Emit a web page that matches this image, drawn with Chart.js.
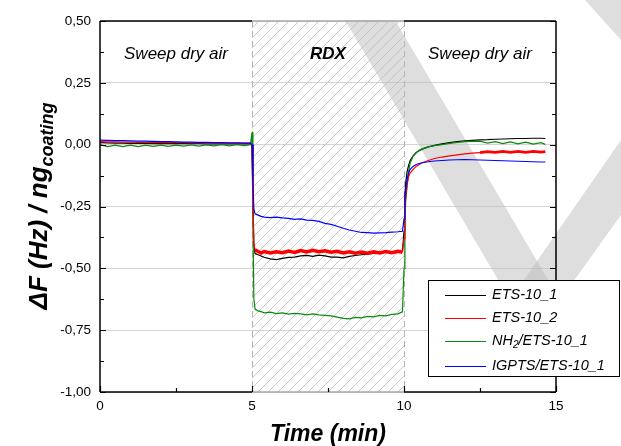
<!DOCTYPE html>
<html>
<head>
<meta charset="utf-8">
<script src="https://cdn.jsdelivr.net/npm/chart.js@4.4.0/dist/chart.umd.min.js"></script>
<style>
  html, body { margin: 0; padding: 0; background: #fff; }
  #wrap { width: 621px; height: 446px; }
</style>
</head>
<body>
<div id="wrap"><canvas id="chart" width="621" height="446"></canvas></div>
<script>
// time axis (min), shared by all four series
const time = [0, 0.25, 0.5, 0.75, 1, 1.25, 1.5, 1.75, 2, 2.25, 2.5, 2.75, 3, 3.25, 3.5, 3.75, 4, 4.25, 4.5, 4.75, 4.95,
  5.0, 5.03, 5.06, 5.1, 5.2, 5.3, 5.4, 5.6, 5.8, 6.0, 6.2, 6.4, 6.6, 6.8, 7.0, 7.2, 7.4, 7.6, 7.8, 8.0, 8.2, 8.4, 8.6, 8.8, 9.0, 9.2, 9.4, 9.6, 9.8, 9.95,
  10.0, 10.03, 10.06, 10.1, 10.15, 10.2, 10.3, 10.4, 10.5, 10.6, 10.8, 11.0, 11.25, 11.5, 11.75, 12, 12.25, 12.5, 12.75, 13, 13.25, 13.5, 13.75, 14, 14.25, 14.5, 14.65];

const ets1 = [0.008, 0.007, 0.006, 0.006, 0.005, 0.005, 0.005, 0.004, 0.004, 0.004, 0.004, 0.004, 0.004, 0.004, 0.003, 0.003, 0.003, 0.003, 0.003, 0.003, 0.003,
  0.0, -0.2, -0.40, -0.44, -0.445, -0.45, -0.455, -0.462, -0.465, -0.46, -0.456, -0.455, -0.45, -0.448, -0.452, -0.447, -0.45, -0.455, -0.455, -0.458, -0.452, -0.448, -0.445, -0.443, -0.44, -0.438, -0.435, -0.436, -0.432, -0.43,
  -0.35, -0.2, -0.15, -0.11, -0.085, -0.065, -0.045, -0.032, -0.025, -0.018, -0.009, -0.003, 0.003, 0.008, 0.012, 0.015, 0.017, 0.019, 0.02, 0.022, 0.023, 0.024, 0.025, 0.025, 0.026, 0.026, 0.025];

const ets2 = [0.012, 0.011, 0.011, 0.01, 0.01, 0.009, 0.009, 0.009, 0.008, 0.008, 0.008, 0.008, 0.007, 0.007, 0.007, 0.007, 0.006, 0.006, 0.006, 0.006, 0.006,
  0.0, -0.25, -0.40, -0.425, -0.432, -0.438, -0.432, -0.438, -0.433, -0.437, -0.43, -0.436, -0.428, -0.434, -0.427, -0.433, -0.429, -0.435, -0.431, -0.438, -0.433, -0.439, -0.434, -0.439, -0.433, -0.438, -0.432, -0.437, -0.431, -0.435,
  -0.38, -0.25, -0.21, -0.16, -0.13, -0.115, -0.1, -0.088, -0.08, -0.073, -0.064, -0.056, -0.05, -0.045, -0.041, -0.037, -0.034, -0.032, -0.028, -0.031, -0.027, -0.031, -0.027, -0.031, -0.027, -0.03, -0.028];

const nh2 = [0.0, -0.008, -0.002, -0.008, -0.002, -0.008, -0.002, -0.007, -0.002, -0.007, -0.002, -0.006, -0.001, -0.006, -0.001, -0.005, 0.0, -0.005, 0.0, -0.004, 0.0,
  0.05, -0.3, -0.62, -0.665, -0.672, -0.675, -0.68, -0.677, -0.683, -0.68, -0.685, -0.682, -0.684, -0.688, -0.684, -0.688, -0.69, -0.692, -0.697, -0.702, -0.704, -0.698, -0.7, -0.694, -0.696, -0.69, -0.692, -0.686, -0.684, -0.676,
  -0.5, -0.3, -0.22, -0.17, -0.11, -0.075, -0.047, -0.033, -0.023, -0.017, -0.009, -0.004, 0.0, 0.005, 0.009, 0.012, 0.013, 0.014, 0.006, 0.012, 0.004, 0.011, 0.003, 0.01, 0.002, 0.008, 0.001];

const igpts = [0.018, 0.017, 0.016, 0.016, 0.015, 0.014, 0.014, 0.013, 0.012, 0.012, 0.011, 0.01, 0.01, 0.009, 0.009, 0.008, 0.008, 0.007, 0.007, 0.006, 0.006,
  0.0, -0.15, -0.26, -0.28, -0.285, -0.29, -0.293, -0.295, -0.293, -0.296, -0.298, -0.302, -0.3, -0.305, -0.306, -0.31, -0.318, -0.322, -0.33, -0.338, -0.345, -0.35, -0.355, -0.356, -0.358, -0.357, -0.356, -0.354, -0.352, -0.35,
  -0.3, -0.22, -0.18, -0.14, -0.115, -0.1, -0.088, -0.08, -0.076, -0.073, -0.069, -0.066, -0.064, -0.062, -0.061, -0.06, -0.061, -0.062, -0.063, -0.064, -0.065, -0.066, -0.067, -0.068, -0.069, -0.07, -0.07];

const seriesLabels = ['ETS-10_1', 'ETS-10_2', 'NH2/ETS-10_1', 'IGPTS/ETS-10_1'];
const seriesColors = ['#000000', '#ff0000', '#0a8a0a', '#0000ff'];
const seriesValues = [ets1, ets2, nh2, igpts];

const xTickValues = [0, 5, 10, 15];
const yMin = -1, yMax = 0.5, yStep = 0.25;
const rdxStart = 5, rdxEnd = 10;
const phaseLabels = [
  { text: 'Sweep dry air', at: 2.5, bold: false },
  { text: 'RDX', at: 7.5, bold: true },
  { text: 'Sweep dry air', at: 12.5, bold: false }
];
const phaseLabelY = 0.367;

const FONT = '"Liberation Sans", Arial, sans-serif';

function toPoints(vals) {
  return vals.map((v, i) => ({ x: time[i], y: v }));
}

// hatched RDX window, dashed borders, watermark, phase labels
const rdxPlugin = {
  id: 'rdx',
  beforeDatasetsDraw(chart) {
    const { ctx, chartArea: a, scales: { x } } = chart;
    const x0 = x.getPixelForValue(rdxStart), x1 = x.getPixelForValue(rdxEnd);
    const pc = document.createElement('canvas');
    pc.width = 10; pc.height = 10;
    const p = pc.getContext('2d');
    p.strokeStyle = '#c8c8c8';
    p.lineWidth = 1;
    p.beginPath();
    p.moveTo(-1, 11); p.lineTo(11, -1);
    p.stroke();
    ctx.save();
    ctx.fillStyle = ctx.createPattern(pc, 'repeat');
    ctx.fillRect(x0, a.top, x1 - x0, a.bottom - a.top);
    ctx.strokeStyle = '#b4b4b4';
    ctx.lineWidth = 1;
    ctx.setLineDash([6, 4]);
    [x0, x1].forEach(px => {
      ctx.beginPath();
      ctx.moveTo(Math.round(px) + 0.5, a.top);
      ctx.lineTo(Math.round(px) + 0.5, a.bottom);
      ctx.stroke();
    });
    ctx.restore();

    // watermark
    ctx.save();
    ctx.fillStyle = 'rgba(190,190,190,0.5)';
    const shapes = [
      [[345, 20], [395, 20], [560, 300], [510, 300]],
      [[510, 300], [560, 300], [621, 215], [621, 140]],
      [[585, 0], [621, 0], [621, 40]]
    ];
    shapes.forEach(s => {
      ctx.beginPath();
      s.forEach((pt, i) => i ? ctx.lineTo(pt[0], pt[1]) : ctx.moveTo(pt[0], pt[1]));
      ctx.closePath();
      ctx.fill();
    });
    ctx.restore();

    // phase labels
    ctx.save();
    ctx.fillStyle = '#000';
    ctx.textAlign = 'center';
    ctx.textBaseline = 'middle';
    const py = chart.scales.y.getPixelForValue(phaseLabelY);
    phaseLabels.forEach(l => {
      ctx.font = (l.bold ? 'italic bold ' : 'italic ') + '17px ' + FONT;
      ctx.fillText(l.text, x.getPixelForValue(l.at), py);
    });
    ctx.restore();
  }
};

// frame, inward ticks, titles, legend
const framePlugin = {
  id: 'frame',
  afterDatasetsDraw(chart) {
    const { ctx, chartArea: a, scales: { x, y } } = chart;
    const x0 = x.getPixelForValue(rdxStart), x1 = x.getPixelForValue(rdxEnd);
    ctx.save();
    ctx.lineWidth = 1.5;
    ctx.strokeStyle = '#000';
    ctx.beginPath();
    ctx.moveTo(a.left, a.top); ctx.lineTo(a.left, a.bottom);
    ctx.moveTo(a.right, a.top); ctx.lineTo(a.right, a.bottom);
    ctx.moveTo(a.left, a.top); ctx.lineTo(x0, a.top);
    ctx.moveTo(x1, a.top); ctx.lineTo(a.right, a.top);
    ctx.moveTo(a.left, a.bottom); ctx.lineTo(x0, a.bottom);
    ctx.moveTo(x1, a.bottom); ctx.lineTo(a.right, a.bottom);
    ctx.stroke();
    ctx.strokeStyle = '#a8a8a8';
    ctx.beginPath();
    ctx.moveTo(x0, a.top); ctx.lineTo(x1, a.top);
    ctx.moveTo(x0, a.bottom); ctx.lineTo(x1, a.bottom);
    ctx.stroke();

    // y ticks (major + minor), both sides, pointing in
    ctx.strokeStyle = '#000';
    ctx.lineWidth = 1.2;
    ctx.beginPath();
    for (let v = yMin; v <= yMax + 1e-9; v += yStep / 2) {
      const major = Math.abs(v / yStep - Math.round(v / yStep)) < 1e-6;
      const len = major ? 6 : 4;
      const py = Math.round(y.getPixelForValue(v)) + 0.5;
      ctx.moveTo(a.left, py); ctx.lineTo(a.left + len, py);
      ctx.moveTo(a.right, py); ctx.lineTo(a.right - len, py);
    }
    // x ticks
    for (let v = 0; v <= 15; v += 2.5) {
      const major = v % 5 === 0;
      const len = major ? 6 : 4;
      const px = Math.round(x.getPixelForValue(v)) + 0.5;
      ctx.moveTo(px, a.bottom); ctx.lineTo(px, a.bottom - len);
    }
    ctx.stroke();

    // axis titles
    ctx.fillStyle = '#000';
    ctx.textBaseline = 'alphabetic';
    ctx.font = 'italic bold 23px ' + FONT;
    ctx.textAlign = 'center';
    ctx.fillText('Time (min)', (a.left + a.right) / 2, 441);

    ctx.translate(47, 206);
    ctx.rotate(-Math.PI / 2);
    const main = 'ΔF (Hz) / ng', sub = 'coating';
    ctx.font = 'italic bold 26px ' + FONT;
    const wMain = ctx.measureText(main).width;
    ctx.font = 'italic bold 18px ' + FONT;
    const wSub = ctx.measureText(sub).width;
    let sx = -(wMain + wSub) / 2;
    ctx.textAlign = 'left';
    ctx.font = 'italic bold 26px ' + FONT;
    ctx.fillText(main, sx, 0);
    ctx.font = 'italic bold 18px ' + FONT;
    ctx.fillText(sub, sx + wMain, 6);
    ctx.restore();

    // legend
    const lx = 428, ly = 280, lw = 191, lh = 96;
    ctx.save();
    ctx.fillStyle = '#fff';
    ctx.fillRect(lx, ly, lw, lh);
    ctx.strokeStyle = '#000';
    ctx.lineWidth = 1;
    ctx.strokeRect(lx + 0.5, ly + 0.5, lw, lh);
    const rows = [295, 318, 341, 366];
    chart.data.datasets.forEach((ds, i) => {
      const ry = rows[i];
      ctx.strokeStyle = ds.borderColor;
      ctx.lineWidth = 1.2;
      ctx.beginPath();
      ctx.moveTo(445, ry + 0.5); ctx.lineTo(486, ry + 0.5);
      ctx.stroke();
      ctx.fillStyle = '#000';
      ctx.textBaseline = 'middle';
      ctx.textAlign = 'left';
      ctx.font = 'italic 14.5px ' + FONT;
      const lab = ds.label;
      if (lab.startsWith('NH2')) {
        ctx.fillText('NH', 492, ry);
        let w = ctx.measureText('NH').width;
        ctx.font = 'italic 10px ' + FONT;
        ctx.fillText('2', 492 + w, ry + 4);
        w += ctx.measureText('2').width;
        ctx.font = 'italic 14.5px ' + FONT;
        ctx.fillText(lab.slice(3), 492 + w, ry);
      } else {
        ctx.fillText(lab, 492, ry);
      }
    });
    ctx.restore();
  }
};

const drawOrder = [3, 1, 2, 0];

// ETS-10_2 is a noisy trace: thicken it where the raw signal oscillates
function segWidth(i) {
  if (i !== 1) return undefined;
  return c => {
    const t = c.p0.parsed.x;
    if (t >= 5.1 && t < 9.95) return 3.5;
    if (t >= 12.5) return 2.8;
    return 1.2;
  };
}

new Chart(document.getElementById('chart'), {
  type: 'line',
  data: {
    datasets: seriesLabels.map((lab, i) => ({
      label: lab,
      data: toPoints(seriesValues[i]),
      borderColor: seriesColors[i],
      backgroundColor: seriesColors[i],
      borderWidth: 1.2,
      pointRadius: 0,
      tension: 0,
      order: drawOrder[i],
      segment: { borderWidth: segWidth(i) }
    }))
  },
  options: {
    responsive: false,
    animation: false,
    layout: { padding: { left: 0, top: 21, right: 65, bottom: 0 } },
    plugins: { legend: { display: false }, tooltip: { enabled: false } },
    scales: {
      x: {
        type: 'linear',
        min: 0, max: 15,
        afterBuildTicks: s => { s.ticks = xTickValues.map(v => ({ value: v })); },
        afterFit: s => { s.height = 54; },
        grid: { display: false, drawTicks: false },
        border: { display: false },
        ticks: { color: '#000', padding: 6, font: { family: FONT, size: 13.5 } }
      },
      y: {
        min: yMin, max: yMax,
        ticks: {
          stepSize: yStep,
          color: '#000',
          padding: 9,
          font: { family: FONT, size: 13.5 },
          callback: v => v.toFixed(2).replace('.', ',')
        },
        afterFit: s => { s.width = 100; },
        grid: { color: '#d4d4d4', lineWidth: 1, drawTicks: false },
        border: { display: false }
      }
    }
  },
  plugins: [rdxPlugin, framePlugin]
});
</script>
</body>
</html>
